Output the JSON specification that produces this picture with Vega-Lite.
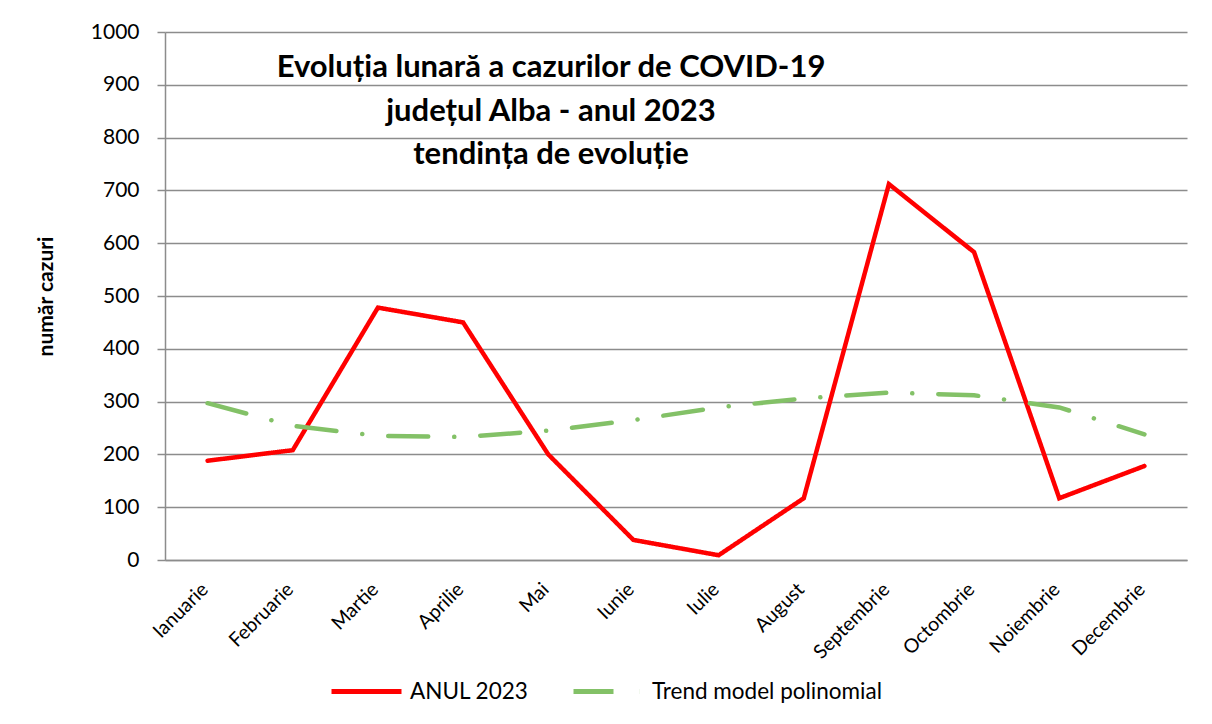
{
  "$schema": "https://vega.github.io/schema/vega-lite/v6.json",
  "width": 1022,
  "height": 528,
  "autosize": {"type": "none"},
  "padding": {"left": 165, "top": 32, "right": 25, "bottom": 164},
  "background": "white",
  "config": {
    "font": "Lato",
    "view": {"stroke": null}
  },
  "title": {
    "text": ["Evoluția lunară a cazurilor de COVID-19", "județul Alba - anul 2023", "tendința de evoluție"],
    "fontSize": 31,
    "fontWeight": "bold",
    "color": "black",
    "lineHeight": 43.5,
    "anchor": "middle",
    "baseline": "top",
    "dx": -125,
    "dy": 150,
    "offset": 0
  },
  "data": {
    "values": [
      {"luna": "Ianuarie", "serie": "ANUL 2023", "cazuri": 188},
      {"luna": "Februarie", "serie": "ANUL 2023", "cazuri": 208},
      {"luna": "Martie", "serie": "ANUL 2023", "cazuri": 478},
      {"luna": "Aprilie", "serie": "ANUL 2023", "cazuri": 450},
      {"luna": "Mai", "serie": "ANUL 2023", "cazuri": 200},
      {"luna": "Iunie", "serie": "ANUL 2023", "cazuri": 38},
      {"luna": "Iulie", "serie": "ANUL 2023", "cazuri": 9},
      {"luna": "August", "serie": "ANUL 2023", "cazuri": 117},
      {"luna": "Septembrie", "serie": "ANUL 2023", "cazuri": 712},
      {"luna": "Octombrie", "serie": "ANUL 2023", "cazuri": 583},
      {"luna": "Noiembrie", "serie": "ANUL 2023", "cazuri": 117},
      {"luna": "Decembrie", "serie": "ANUL 2023", "cazuri": 178},
      {"luna": "Ianuarie", "serie": "Trend model polinomial", "cazuri": 297},
      {"luna": "Februarie", "serie": "Trend model polinomial", "cazuri": 254},
      {"luna": "Martie", "serie": "Trend model polinomial", "cazuri": 235},
      {"luna": "Aprilie", "serie": "Trend model polinomial", "cazuri": 233},
      {"luna": "Mai", "serie": "Trend model polinomial", "cazuri": 245},
      {"luna": "Iunie", "serie": "Trend model polinomial", "cazuri": 265},
      {"luna": "Iulie", "serie": "Trend model polinomial", "cazuri": 289},
      {"luna": "August", "serie": "Trend model polinomial", "cazuri": 306},
      {"luna": "Septembrie", "serie": "Trend model polinomial", "cazuri": 317},
      {"luna": "Octombrie", "serie": "Trend model polinomial", "cazuri": 312},
      {"luna": "Noiembrie", "serie": "Trend model polinomial", "cazuri": 289},
      {"luna": "Decembrie", "serie": "Trend model polinomial", "cazuri": 238}
    ]
  },
  "mark": {"type": "line", "strokeWidth": 4.5, "strokeCap": "round", "strokeJoin": "miter"},
  "encoding": {
    "x": {
      "field": "luna",
      "type": "ordinal",
      "sort": ["Ianuarie", "Februarie", "Martie", "Aprilie", "Mai", "Iunie", "Iulie", "August", "Septembrie", "Octombrie", "Noiembrie", "Decembrie"],
      "scale": {"type": "point", "padding": 0.5},
      "axis": {
        "title": null,
        "labelAngle": -45,
        "labelAlign": "right",
        "labelBaseline": "middle",
        "labelFontSize": 19.5,
        "labelColor": "black",
        "labelPadding": 26,
        "labelOffset": -3,
        "ticks": false,
        "domainColor": "#8c8c8c",
        "domainWidth": 1.5,
        "grid": false
      }
    },
    "y": {
      "field": "cazuri",
      "type": "quantitative",
      "scale": {"domain": [0, 1000], "nice": false},
      "axis": {
        "values": [0, 100, 200, 300, 400, 500, 600, 700, 800, 900, 1000],
        "format": "d",
        "title": "număr cazuri",
        "titleFontSize": 21,
        "titleFontWeight": "bold",
        "titleColor": "black",
        "titlePadding": 34,
        "labelFontSize": 21,
        "labelColor": "black",
        "labelPadding": 18,
        "tickSize": 8,
        "tickColor": "#8c8c8c",
        "tickWidth": 1.5,
        "domainColor": "#8c8c8c",
        "domainWidth": 1.5,
        "gridColor": "#8c8c8c",
        "gridWidth": 1.5,
        "gridOpacity": 1
      }
    },
    "color": {
      "field": "serie",
      "type": "nominal",
      "scale": {"domain": ["ANUL 2023", "Trend model polinomial"], "range": ["#ff0000", "#83c167"]},
      "legend": {
        "title": null,
        "orient": "none",
        "direction": "horizontal",
        "legendX": 164,
        "legendY": 622,
        "symbolType": "stroke",
        "symbolSize": 4900,
        "symbolStrokeWidth": 5,
        "labelFontSize": 22.5,
        "labelColor": "black",
        "labelOffset": 6,
        "labelLimit": 400,
        "columnPadding": 34
      }
    },
    "strokeDash": {
      "field": "serie",
      "type": "nominal",
      "scale": {"domain": ["ANUL 2023", "Trend model polinomial"], "range": [[1, 0], [40, 26, 0.1, 26]]},
      "legend": null
    }
  }
}
